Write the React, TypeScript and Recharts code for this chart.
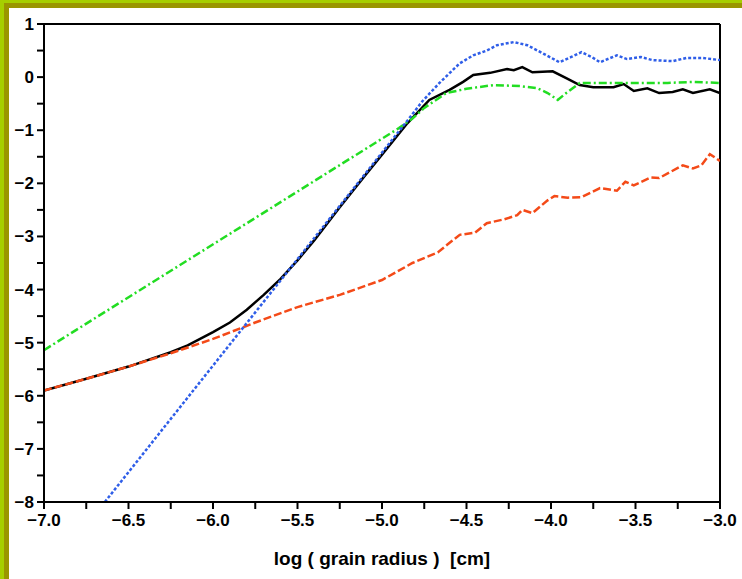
import { Label, Line, LineChart, ReferenceLine, XAxis, YAxis } from 'recharts';

const xTicks = [-7, -6.75, -6.5, -6.25, -6, -5.75, -5.5, -5.25, -5, -4.75, -4.5, -4.25, -4, -3.75, -3.5, -3.25, -3];
const yTicks = [-8, -7.5, -7, -6.5, -6, -5.5, -5, -4.5, -4, -3.5, -3, -2.5, -2, -1.5, -1, -0.5, 0, 0.5, 1];

const blackX = [-7, -6.75, -6.5, -6.25, -6.15, -6.0, -5.9, -5.8, -5.7, -5.6, -5.5, -5.4, -5.25, -5.1, -5.0, -4.85, -4.72, -4.6, -4.52, -4.46, -4.36, -4.26, -4.22, -4.17, -4.11, -3.99, -3.91, -3.83, -3.75, -3.63, -3.57, -3.51, -3.43, -3.36, -3.28, -3.22, -3.16, -3.06, -3.0];
const blackY = [-5.9, -5.68, -5.45, -5.18, -5.05, -4.8, -4.62, -4.38, -4.1, -3.8, -3.45, -3.07, -2.45, -1.85, -1.46, -0.87, -0.43, -0.24, -0.09, 0.04, 0.08, 0.15, 0.13, 0.19, 0.09, 0.11, -0.02, -0.15, -0.19, -0.19, -0.13, -0.26, -0.21, -0.3, -0.28, -0.23, -0.3, -0.23, -0.3];

const blueX = [-6.64, -4.85, -4.76, -4.66, -4.54, -4.46, -4.38, -4.32, -4.22, -4.14, -4.05, -3.95, -3.88, -3.82, -3.76, -3.71, -3.61, -3.55, -3.47, -3.4, -3.28, -3.2, -3.1, -3.0];
const blueY = [-8, -0.82, -0.45, -0.11, 0.26, 0.41, 0.5, 0.6, 0.66, 0.6, 0.45, 0.28, 0.38, 0.47, 0.38, 0.28, 0.41, 0.34, 0.38, 0.32, 0.3, 0.36, 0.36, 0.32];

const greenX = [-7, -4.9, -4.82, -4.75, -4.62, -4.5, -4.34, -4.18, -4.08, -4.02, -3.96, -3.91, -3.83, -3.67, -3.51, -3.31, -3.16, -3.0];
const greenY = [-5.14, -0.96, -0.78, -0.58, -0.3, -0.22, -0.15, -0.17, -0.21, -0.3, -0.43, -0.3, -0.11, -0.11, -0.11, -0.11, -0.09, -0.11];

const orangeX = [-7, -6.75, -6.5, -6.25, -6.0, -5.75, -5.5, -5.25, -5.0, -4.82, -4.67, -4.6, -4.54, -4.45, -4.38, -4.28, -4.2, -4.17, -4.11, -4.02, -3.98, -3.9, -3.82, -3.71, -3.61, -3.56, -3.51, -3.41, -3.36, -3.22, -3.16, -3.11, -3.06, -3.0];
const orangeY = [-5.9, -5.68, -5.45, -5.2, -4.93, -4.62, -4.33, -4.1, -3.82, -3.5, -3.3, -3.12, -2.97, -2.93, -2.75, -2.68, -2.6, -2.5, -2.56, -2.32, -2.24, -2.27, -2.26, -2.09, -2.14, -1.97, -2.04, -1.89, -1.9, -1.66, -1.72, -1.66, -1.45, -1.58];

const toPoints = (xs: number[], ys: number[]) => xs.map((x, i) => ({ x, y: ys[i] }));

const minus = (s: string) => s.replace('-', '\u2212');
const fmtX = (v: number) => (Math.abs(v * 2 - Math.round(v * 2)) < 1e-6 ? minus(v.toFixed(1)) : '');
const fmtY = (v: number) => (Number.isInteger(v) ? minus(String(v)) : '');

const tickStyle = { fill: '#000', fontSize: 17, fontWeight: 'bold', fontFamily: '"Liberation Sans", Arial, sans-serif' };

export default function App() {
  return (
    <div style={{ position: 'absolute', left: 0, top: 0, width: 742, height: 579, background: '#a6cf00' }}>
      <div style={{ position: 'absolute', left: 4, top: 3, right: 0, bottom: 0, background: '#9a9600' }} />
      <div style={{ position: 'absolute', left: 9, top: 8, right: 0, bottom: 0, background: '#fff' }} />
      <div style={{ position: 'absolute', left: 0, top: 0 }}>
        <LineChart width={742} height={579} margin={{ top: 24, right: 22, bottom: 0, left: 0 }}>
          <XAxis
            type="number"
            dataKey="x"
            domain={[-7, -3]}
            ticks={xTicks}
            tickFormatter={fmtX}
            allowDataOverflow
            height={77}
            interval={0}
            stroke="#000"
            strokeWidth={2}
            tickSize={7}
            tickMargin={5}
            tick={tickStyle}
          >
            <Label
              value={'log ( grain radius )\u00a0\u00a0[cm]'}
              position="insideBottom"
              offset={14}
              style={{ ...tickStyle, fontSize: 19 }}
            />
          </XAxis>
          <YAxis
            type="number"
            domain={[-8, 1]}
            ticks={yTicks}
            tickFormatter={fmtY}
            allowDataOverflow
            width={44}
            interval={0}
            stroke="#000"
            strokeWidth={2}
            tickSize={7}
            tickMargin={3}
            tick={tickStyle}
          />
          <ReferenceLine x={-3} stroke="#000" strokeWidth={2} />
          <ReferenceLine y={1} stroke="#000" strokeWidth={2} />
          <Line data={toPoints(blackX, blackY)} dataKey="y" type="linear" stroke="#000" strokeWidth={2.5} dot={false} isAnimationActive={false} />
          <Line data={toPoints(orangeX, orangeY)} dataKey="y" type="linear" stroke="#f44a18" strokeWidth={2.5} strokeDasharray="8 3" dot={false} isAnimationActive={false} />
          <Line data={toPoints(greenX, greenY)} dataKey="y" type="linear" stroke="#22dd22" strokeWidth={2.5} strokeDasharray="8 3 2 3" dot={false} isAnimationActive={false} />
          <Line data={toPoints(blueX, blueY)} dataKey="y" type="linear" stroke="#2f5ee8" strokeWidth={2.5} strokeDasharray="3 2" dot={false} isAnimationActive={false} />
        </LineChart>
      </div>
    </div>
  );
}
